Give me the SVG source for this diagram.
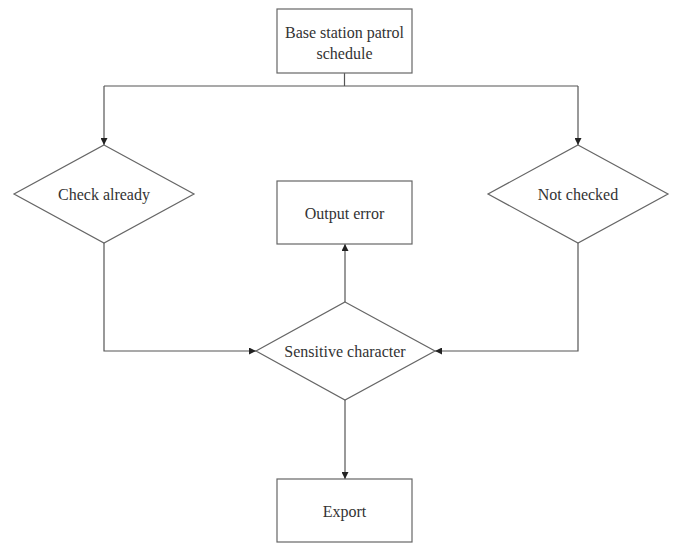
<svg xmlns="http://www.w3.org/2000/svg" width="674" height="543" viewBox="0 0 674 543">
<style>
.box{fill:#fff;stroke:#666;stroke-width:1.2}
.t{font-family:"Liberation Serif",serif;font-size:16px;fill:#333;text-anchor:middle;dominant-baseline:central}
.c{fill:none;stroke:#555;stroke-width:1.2}
</style>
<defs>
<marker id="a" viewBox="0 0 10 10" refX="10" refY="5" markerWidth="7" markerHeight="7" orient="auto-start-reverse" markerUnits="userSpaceOnUse">
<path d="M0,0L10,5L0,10z" fill="#222"/>
</marker>
</defs>
<rect width="674" height="543" fill="#fff"/>
<g id="connectors">
<path class="c" d="M344.5,73V86"/>
<path class="c" d="M104,86H578"/>
<path class="c" d="M104,86V145" marker-end="url(#a)"/>
<path class="c" d="M578,86V145" marker-end="url(#a)"/>
<path class="c" d="M104,243V351H256" marker-end="url(#a)"/>
<path class="c" d="M578,243V351H435" marker-end="url(#a)"/>
<path class="c" d="M345,302V244" marker-end="url(#a)"/>
<path class="c" d="M345,400V479" marker-end="url(#a)"/>
</g>
<g id="schedule">
<rect class="box" x="277" y="9" width="135" height="64"/>
<text class="t" x="344.5" y="32">Base station patrol</text>
<text class="t" x="344.5" y="53">schedule</text>
</g>
<g id="check">
<polygon class="box" points="104,145 194,194 104,243 14,194"/>
<text class="t" x="104" y="194">Check already</text>
</g>
<g id="notchecked">
<polygon class="box" points="578,145 668,194 578,243 488,194"/>
<text class="t" x="578" y="194">Not checked</text>
</g>
<g id="outputerror">
<rect class="box" x="277" y="181" width="135" height="63"/>
<text class="t" x="344.5" y="213">Output error</text>
</g>
<g id="sensitive">
<polygon class="box" points="345,302 435,351 345,400 256,351"/>
<text class="t" x="345" y="351">Sensitive character</text>
</g>
<g id="export">
<rect class="box" x="277" y="479" width="135" height="63"/>
<text class="t" x="344.5" y="511">Export</text>
</g>
</svg>
